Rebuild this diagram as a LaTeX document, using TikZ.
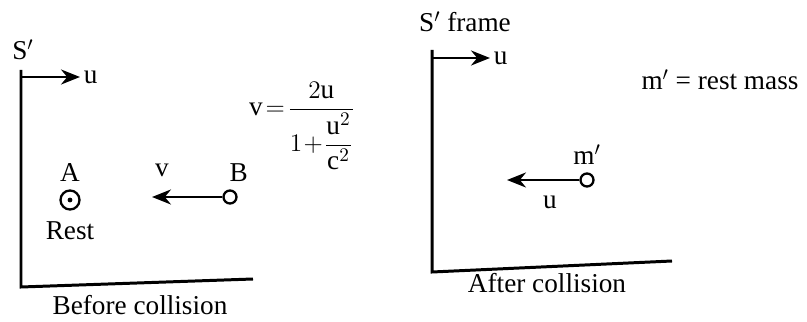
\documentclass[tikz,border=0pt]{standalone}
\usepackage{amsmath}
\usepackage{fontspec}
\setmainfont{Liberation Serif}
\usetikzlibrary{arrows.meta,positioning}

\begin{document}
\begin{tikzpicture}[x=0.02cm, y=0.02cm, every node/.style={font=\fontsize{15.5}{18}\selectfont, inner sep=1pt}]
  \tikzset{
    axis/.style={line width=1.7pt},
    move/.style={-{Stealth[length=3.8mm,width=3mm]}, line width=1.3pt},
    ball/.style={circle, draw, line width=1.3pt, inner sep=0pt, minimum size=#1}
  }
  \useasboundingbox (0,0) rectangle (807,321);
  % before collision
  \coordinate (Ltop) at (21,251);
  \coordinate (Lorig) at (21,34);
  \coordinate (Lend) at (253,42);
  \draw[axis] (Ltop) -- (Lorig) -- (Lend);
  \coordinate (Lu) at (21,244);
  \coordinate (Lutip) at (80,244);
  \draw[move] (Lu) -- (Lutip);
  \node[right=1pt of Lutip] (Lulab) {u};
  \node (Slab) at (23,271) {S$'$};
  \node[ball=0.38cm] (ballA) at (70,121) {};
  \fill (ballA.center) circle (2.4);
  \node[above=3pt of ballA] (labA) {A};
  \node[below=5pt of ballA] (rest) {Rest};
  \node[ball=0.26cm] (ballB) at (230,124) {};
  \node[above=3pt of ballB, xshift=5pt] (labB) {B};
  \coordinate (vtip) at (152,124);
  \draw[move] (ballB.west) -- (vtip);
  \node (labv) at (162,151) {v};
  \node (vform) at (302,195) {$\mathrm{v}\!=\!\dfrac{2\mathrm{u}}{1\!+\!\dfrac{\mathrm{u}^2}{\mathrm{c}^2}}$};
  \node (before) at (140,16) {Before collision};
  % after collision
  \coordinate (Rtop) at (432,271);
  \coordinate (Rorig) at (432,49);
  \coordinate (Rend) at (672,60);
  \draw[axis] (Rtop) -- (Rorig) -- (Rend);
  \coordinate (Ru) at (432,263);
  \coordinate (Rutip) at (490,263);
  \draw[move] (Ru) -- (Rutip);
  \node[right=1pt of Rutip] (Rulab) {u};
  \node (Sframe) at (465,299) {S$'$ frame};
  \node (restmass) at (720,241) {m$'$ = rest mass};
  \node[ball=0.26cm] (ballm) at (587,141) {};
  \node[above=3pt of ballm] (labm) {m$'$};
  \coordinate (mtip) at (507,141);
  \draw[move] (ballm.west) -- (mtip);
  \node (labu) at (550,119) {u};
  \node (after) at (547,38) {After collision};
\end{tikzpicture}
\end{document}
